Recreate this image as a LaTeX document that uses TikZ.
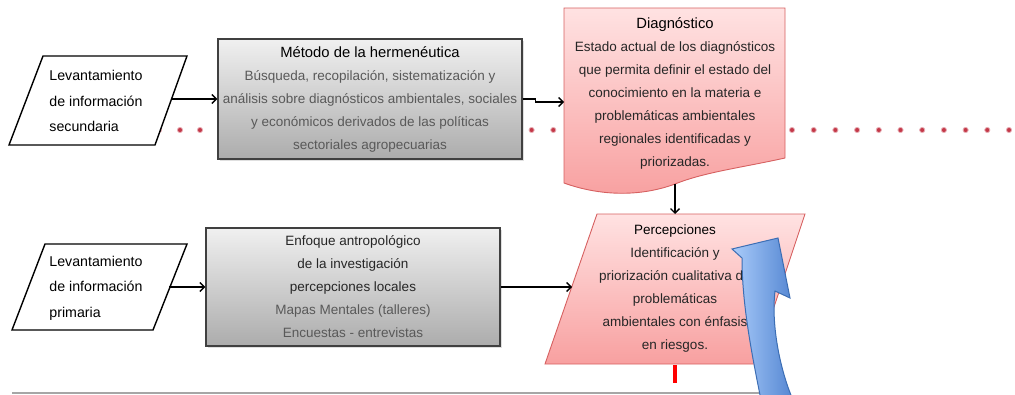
\documentclass[tikz,border=0pt]{standalone}
\usepackage{fontspec}
\setmainfont{Liberation Sans}
\usetikzlibrary{arrows.meta,shadows}
\definecolor{txtgray}{RGB}{89,89,89}
\definecolor{txtdark}{RGB}{38,38,38}
\definecolor{boxtop}{RGB}{240,240,240}
\definecolor{boxbot}{RGB}{172,172,172}
\definecolor{pinktop}{RGB}{255,226,226}
\definecolor{pinkbot}{RGB}{248,160,160}
\definecolor{pinkline}{RGB}{214,96,96}
\definecolor{dotred}{RGB}{196,56,72}
\definecolor{bluelight}{RGB}{170,204,250}
\definecolor{bluedark}{RGB}{84,134,210}
\definecolor{blueline}{RGB}{60,110,180}
\newcommand{\bigt}{\fontsize{14.8}{23}\selectfont}
\tikzset{
  arr/.style={line width=1.4pt, -{Straight Barb[length=4.5pt,width=9pt]}},
  graybox/.style={draw=black!75, line width=1.1pt, top color=boxtop, bottom color=boxbot,
    inner sep=0pt, align=center, text=txtgray, font=\fontsize{13.5}{23}\selectfont,
    drop shadow={opacity=0.25, shadow xshift=1.5pt, shadow yshift=-1.5pt}},
  parashape/.style={draw=black, line width=1.4pt, fill=white},
  paratext/.style={align=left, inner sep=0pt, font=\fontsize{14.2}{25.5}\selectfont},
  pinkshape/.style={draw=pinkline, line width=0.9pt, top color=pinktop, bottom color=pinkbot},
  pinktext/.style={align=center, inner sep=0pt, text=txtdark, font=\fontsize{13.5}{23}\selectfont},
  dotmark/.style={fill=dotred, draw=dotred!40, line width=0.8pt}
}
\begin{document}
\begin{tikzpicture}[x=1pt,y=-1pt]
\useasboundingbox (0,0) rectangle (1015,394);
\clip (0,0) rectangle (1015,394);
% dotted red line
\foreach \x in {159,180,200} {\fill[dotmark] (\x,130) circle (2.6);}
\foreach \k in {0,...,22} {\fill[dotmark] ({531.6+21.7*\k},130) circle (2.6);}
% bottom gray rule
\draw[line width=1.5pt, black!35] (12,393) -- (772,393);
% parallelogram 1
\draw[parashape] (43,56) -- (187,56) -- (155,145) -- (9,145) -- cycle;
\node[paratext] (sec) at (96,101) {Levantamiento\\de  información\\secundaria};
\coordinate (secE) at (171,99);
% parallelogram 2
\draw[parashape] (45,244) -- (187,244) -- (153,330) -- (12,330) -- cycle;
\node[paratext] (prim) at (96,288) {Levantamiento\\de  información\\primaria};
\coordinate (primE) at (169,287);
% gray boxes
\node[graybox, minimum width=304pt, minimum height=120pt] (metodo) at (370,99)
 {\textcolor{black}{\bigt Método de la hermenéutica}\\
  Búsqueda, recopilación, sistematización  y\\
  análisis sobre diagnósticos ambientales, sociales\\
  y económicos derivados de las políticas\\
  sectoriales agropecuarias};
\node[graybox, minimum width=294pt, minimum height=118pt] (enfoque) at (353,287)
 {\textcolor{txtdark}{Enfoque antropológico}\\
  \textcolor{txtdark}{de la investigación}\\
  \textcolor{txtdark}{percepciones locales}\\
  Mapas Mentales  (talleres)\\
  Encuestas  - entrevistas};
% Diagnostico document shape
\path[pinkshape] (564,8) -- (785,8) -- (785,158)
  .. controls (740,168) and (705,172) .. (675,184)
  .. controls (640,197) and (600,196) .. (564,183) -- cycle;
\node[pinktext] (diag) at (675,93)
 {\textcolor{black}{\bigt Diagnóstico}\\
  Estado actual de los diagnósticos\\
  que permita definir el estado del\\
  conocimiento en la materia e\\
  problemáticas ambientales\\
  regionales identificadas y\\
  priorizadas.};
\coordinate (diagW) at (564,102);
\coordinate (diagS) at (675,184);
% Percepciones parallelogram
\path[pinkshape] (597,214) -- (805,214) -- (755,364) -- (545,364) -- cycle;
\node[pinktext] (perc) at (675,289)
 {\textcolor{black}{Percepciones}\\
  Identificación y\\
  priorización cualitativa de\\
  problemáticas\\
  ambientales con énfasis\\
  en riesgos.};
\coordinate (percN) at (675,214);
\coordinate (percW) at (572,287);
\coordinate (percS) at (675,365);
\coordinate (redEnd) at (675,383);
% connectors
\draw[arr] (secE) -- (metodo.west);
\draw[arr] (primE) -- (enfoque.west);
\draw[arr] (metodo.east) -- ++(13,0) |- (diagW);
\draw[arr] (diagS) -- (percN);
\draw[arr] (enfoque.east) -- (percW);
\draw[line width=3.5pt, red] (percS) -- (redEnd);
% blue curved block arrow
\path[draw=blueline, line width=1pt, left color=bluelight, right color=bluedark]
  (761,400) .. controls (752,355) and (742,305) .. (742,258)
  -- (732,249) -- (778,238) -- (790,298) -- (775,291)
  .. controls (771,325) and (780,370) .. (793,400) -- cycle;
\end{tikzpicture}
\end{document}
